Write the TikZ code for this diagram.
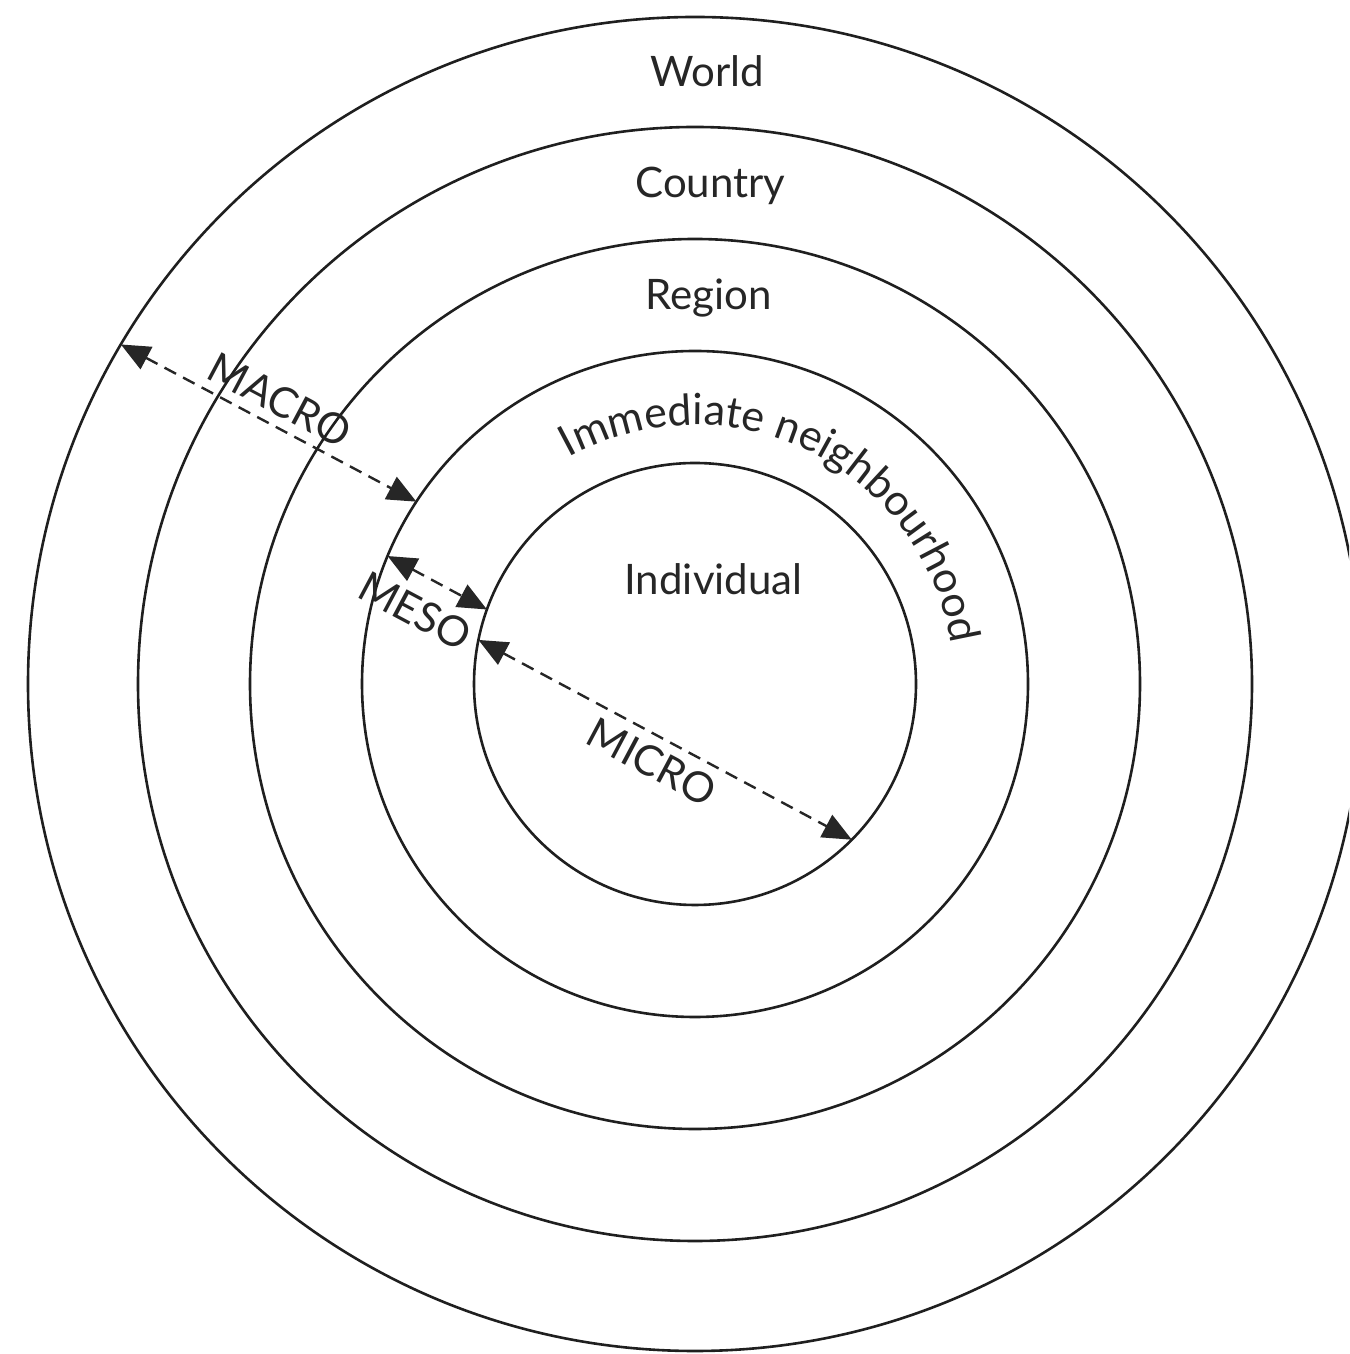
\documentclass[tikz,border=0pt]{standalone}
\usepackage{fontspec}
\setmainfont{Lato}
\usetikzlibrary{arrows.meta,calc,decorations.text}
\begin{document}
\begin{tikzpicture}[x=1pt,y=1pt,
  ring/.style={line width=2.6pt, draw=black!88},
  lbl/.style={font=\fontsize{42}{50}\selectfont, text=black!85, inner sep=0pt},
  scalearrow/.style={line width=2.4pt, draw=black!85, dash pattern=on 13pt off 8pt,
    {Triangle[length=29pt,width=25pt]}-{Triangle[length=29pt,width=25pt]}},
]
\useasboundingbox (0,0) rectangle (1349,1354);
\clip (0,0) rectangle (1349,1354);
\coordinate (C) at (695,670);
\foreach \r in {667,557,445,333,221} \draw[ring] (C) circle[radius=\r pt];

% labels
\node[lbl, anchor=base] (world) at (707.5,1267) {World};
\node[lbl, anchor=base] (country) at (710.5,1156) {Country};
\node[lbl, anchor=base] (region) at (708.5,1044) {Region};
\node[lbl, anchor=base] (individual) at (713.5,759) {Individual};

% curved label
\path[decorate, decoration={text along path, text align=center,
  text={|\fontsize{43}{50}\selectfont\color{black!85}|Immediate neighbourhood}}]
  ([shift={(118:259pt)}]C) arc[start angle=118, end angle=10, radius=259pt];

% arrow end points
\coordinate (A1) at ([shift={(149.4:667pt)}]C);
\coordinate (A2) at ([shift={(146.8:333pt)}]C);
\coordinate (B1) at ([shift={(157.4:333pt)}]C);
\coordinate (B2) at ([shift={(160.3:221pt)}]C);
\coordinate (M1) at ([shift={(168.5:221pt)}]C);
\coordinate (M2) at ([shift={(-44.8:221pt)}]C);

\draw[scalearrow] (A1) -- (A2);
\draw[scalearrow] (B1) -- (B2);
\draw[scalearrow] (M1) -- (M2);

\node[lbl, rotate=-28] (macro) at (280,954) {MACRO};
\node[lbl, rotate=-28] (meso) at (415,743) {MESO};
\node[lbl, rotate=-28] (micro) at (652,592) {MICRO};
\end{tikzpicture}
\end{document}
